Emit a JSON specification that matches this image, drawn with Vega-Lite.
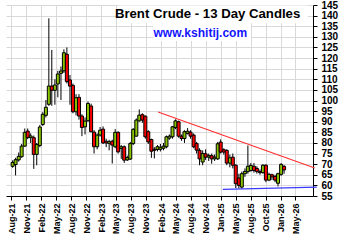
{
  "$schema": "https://vega.github.io/schema/vega-lite/v6.json",
  "width": 307,
  "height": 191,
  "autosize": "none",
  "padding": {"left": 6, "top": 5, "right": 33, "bottom": 48},
  "background": "white",
  "config": {
    "view": {"stroke": null},
    "axis": {
      "gridColor": "#d9d9d9", "gridWidth": 1, "domainColor": "#000", "domainWidth": 1,
      "tickColor": "#000", "labelColor": "#000", "labelFont": "Liberation Sans",
      "labelFontWeight": "bold"
    }
  },
  "data": {"values": [
    {"d":"2021-08-09","o":69.0,"h":71.8,"l":68.3,"c":70.8},
    {"d":"2021-08-27","o":69.8,"h":73.0,"l":64.7,"c":72.1},
    {"d":"2021-09-15","o":72.0,"h":75.5,"l":71.2,"c":73.7},
    {"d":"2021-10-03","o":73.5,"h":79.5,"l":73.0,"c":78.5},
    {"d":"2021-10-22","o":78.5,"h":86.8,"l":78.2,"c":85.0},
    {"d":"2021-11-09","o":85.6,"h":86.8,"l":81.8,"c":82.5},
    {"d":"2021-11-27","o":82.5,"h":84.5,"l":80.0,"c":83.3},
    {"d":"2021-12-16","o":82.5,"h":83.5,"l":67.8,"c":74.6},
    {"d":"2022-01-03","o":74.6,"h":80.0,"l":69.5,"c":79.3},
    {"d":"2022-01-22","o":78.8,"h":88.5,"l":78.0,"c":87.5},
    {"d":"2022-02-09","o":88.7,"h":94.5,"l":88.0,"c":93.5},
    {"d":"2022-02-28","o":93.0,"h":100.2,"l":92.0,"c":96.8},
    {"d":"2022-03-18","o":98.2,"h":138.7,"l":97.5,"c":106.8},
    {"d":"2022-04-05","o":106.8,"h":123.8,"l":97.5,"c":104.8},
    {"d":"2022-04-24","o":104.8,"h":110.0,"l":98.0,"c":107.3},
    {"d":"2022-05-12","o":107.8,"h":114.0,"l":101.5,"c":112.5},
    {"d":"2022-05-31","o":112.8,"h":116.0,"l":100.2,"c":113.9},
    {"d":"2022-06-18","o":114.0,"h":124.1,"l":113.0,"c":122.5},
    {"d":"2022-07-06","o":121.8,"h":125.0,"l":108.0,"c":108.9},
    {"d":"2022-07-25","o":109.7,"h":112.0,"l":98.0,"c":106.8},
    {"d":"2022-08-12","o":107.1,"h":108.0,"l":94.0,"c":94.7},
    {"d":"2022-08-31","o":94.7,"h":103.0,"l":93.0,"c":101.3},
    {"d":"2022-09-18","o":101.5,"h":103.0,"l":91.0,"c":92.7},
    {"d":"2022-10-06","o":92.7,"h":93.5,"l":83.2,"c":87.3},
    {"d":"2022-10-25","o":87.6,"h":92.0,"l":84.0,"c":90.3},
    {"d":"2022-11-12","o":90.5,"h":99.5,"l":90.0,"c":98.6},
    {"d":"2022-12-01","o":97.4,"h":98.5,"l":85.0,"c":85.3},
    {"d":"2022-12-19","o":85.1,"h":86.0,"l":75.0,"c":78.2},
    {"d":"2023-01-07","o":78.2,"h":84.5,"l":77.0,"c":83.7},
    {"d":"2023-01-25","o":83.7,"h":87.5,"l":83.0,"c":86.0},
    {"d":"2023-02-12","o":86.5,"h":87.8,"l":79.5,"c":80.0},
    {"d":"2023-03-03","o":80.8,"h":82.0,"l":78.0,"c":80.0},
    {"d":"2023-03-21","o":79.8,"h":81.5,"l":76.5,"c":80.6},
    {"d":"2023-04-09","o":80.8,"h":81.5,"l":70.3,"c":79.0},
    {"d":"2023-04-27","o":78.2,"h":86.5,"l":77.5,"c":85.0},
    {"d":"2023-05-15","o":85.0,"h":85.5,"l":75.0,"c":75.8},
    {"d":"2023-06-03","o":77.4,"h":79.0,"l":72.5,"c":78.2},
    {"d":"2023-06-21","o":78.2,"h":78.8,"l":70.6,"c":71.9},
    {"d":"2023-07-10","o":72.0,"h":74.0,"l":71.5,"c":73.1},
    {"d":"2023-07-28","o":72.4,"h":80.5,"l":72.0,"c":79.7},
    {"d":"2023-08-15","o":79.7,"h":87.0,"l":79.0,"c":86.4},
    {"d":"2023-09-03","o":83.2,"h":91.5,"l":83.0,"c":90.8},
    {"d":"2023-09-21","o":90.4,"h":95.8,"l":90.0,"c":93.1},
    {"d":"2023-10-10","o":93.3,"h":94.0,"l":89.5,"c":90.8},
    {"d":"2023-10-28","o":92.6,"h":93.0,"l":82.0,"c":82.9},
    {"d":"2023-11-15","o":85.3,"h":86.0,"l":79.5,"c":80.5},
    {"d":"2023-12-04","o":81.6,"h":82.0,"l":73.0,"c":76.1},
    {"d":"2023-12-22","o":77.0,"h":78.0,"l":72.7,"c":76.5},
    {"d":"2024-01-10","o":76.9,"h":79.0,"l":76.0,"c":78.2},
    {"d":"2024-01-28","o":77.0,"h":79.5,"l":76.0,"c":78.0},
    {"d":"2024-02-16","o":77.5,"h":80.0,"l":76.5,"c":78.5},
    {"d":"2024-03-05","o":78.2,"h":83.5,"l":77.5,"c":82.9},
    {"d":"2024-03-23","o":82.3,"h":84.0,"l":81.5,"c":83.2},
    {"d":"2024-04-11","o":82.9,"h":88.0,"l":82.0,"c":87.6},
    {"d":"2024-04-29","o":87.3,"h":91.1,"l":86.5,"c":90.4},
    {"d":"2024-05-18","o":90.0,"h":90.5,"l":82.5,"c":83.2},
    {"d":"2024-06-05","o":83.2,"h":84.0,"l":81.0,"c":82.1},
    {"d":"2024-06-23","o":82.1,"h":86.0,"l":80.0,"c":85.3},
    {"d":"2024-07-12","o":84.5,"h":87.0,"l":84.0,"c":85.5},
    {"d":"2024-07-30","o":85.1,"h":86.0,"l":82.0,"c":83.2},
    {"d":"2024-08-18","o":83.7,"h":84.5,"l":77.5,"c":78.2},
    {"d":"2024-09-05","o":79.7,"h":80.5,"l":75.0,"c":76.6},
    {"d":"2024-09-23","o":76.5,"h":77.5,"l":69.5,"c":72.5},
    {"d":"2024-10-12","o":71.0,"h":76.5,"l":69.5,"c":75.0},
    {"d":"2024-10-30","o":74.9,"h":77.0,"l":72.0,"c":73.3},
    {"d":"2024-11-18","o":73.3,"h":75.0,"l":71.5,"c":74.0},
    {"d":"2024-12-06","o":74.0,"h":75.0,"l":70.2,"c":72.5},
    {"d":"2024-12-24","o":72.5,"h":74.5,"l":71.5,"c":73.3},
    {"d":"2025-01-12","o":72.5,"h":80.5,"l":72.0,"c":79.6},
    {"d":"2025-01-30","o":80.4,"h":81.7,"l":75.0,"c":75.7},
    {"d":"2025-02-18","o":76.8,"h":77.5,"l":74.5,"c":75.7},
    {"d":"2025-03-08","o":76.5,"h":77.0,"l":69.5,"c":70.5},
    {"d":"2025-03-27","o":70.5,"h":74.5,"l":68.5,"c":73.0},
    {"d":"2025-04-14","o":73.3,"h":75.0,"l":68.0,"c":69.5},
    {"d":"2025-05-02","o":69.5,"h":70.0,"l":58.7,"c":60.8},
    {"d":"2025-05-21","o":63.5,"h":65.5,"l":58.6,"c":60.0},
    {"d":"2025-06-08","o":59.2,"h":66.5,"l":58.4,"c":65.5},
    {"d":"2025-06-27","o":65.5,"h":68.0,"l":64.0,"c":66.6},
    {"d":"2025-07-15","o":66.5,"h":78.8,"l":65.5,"c":69.0},
    {"d":"2025-08-02","o":67.0,"h":70.5,"l":66.5,"c":69.4},
    {"d":"2025-08-21","o":69.0,"h":70.5,"l":66.0,"c":67.0},
    {"d":"2025-09-08","o":68.0,"h":69.0,"l":65.5,"c":66.5},
    {"d":"2025-09-27","o":66.5,"h":67.5,"l":65.0,"c":66.0},
    {"d":"2025-10-15","o":66.0,"h":70.0,"l":65.5,"c":69.5},
    {"d":"2025-11-02","o":69.5,"h":70.0,"l":61.5,"c":62.5},
    {"d":"2025-11-21","o":62.5,"h":66.0,"l":62.0,"c":65.2},
    {"d":"2025-12-09","o":65.0,"h":65.5,"l":62.5,"c":64.0},
    {"d":"2025-12-28","o":64.2,"h":65.0,"l":61.5,"c":62.5},
    {"d":"2026-01-15","o":61.0,"h":66.0,"l":59.5,"c":65.5},
    {"d":"2026-02-03","o":65.2,"h":70.5,"l":64.5,"c":69.9},
    {"d":"2026-02-21","o":69.0,"h":69.5,"l":65.5,"c":67.3}
  ]},
  "layer": [
    {
      "mark": {"type": "rule", "color": "#000", "strokeWidth": 1},
      "encoding": {
        "x": {"field": "d", "type": "temporal", "title": null,
          "scale": {"domain": [{"year": 2021, "month": 7, "date": 30}, {"year": 2026, "month": 7, "date": 17}]},
          "axis": {
            "orient": "bottom",
            "values": [
              {"year": 2021, "month": 8, "date": 1}, {"year": 2021, "month": 11, "date": 1},
              {"year": 2022, "month": 2, "date": 1}, {"year": 2022, "month": 5, "date": 1},
              {"year": 2022, "month": 8, "date": 1}, {"year": 2022, "month": 11, "date": 1},
              {"year": 2023, "month": 2, "date": 1}, {"year": 2023, "month": 5, "date": 1},
              {"year": 2023, "month": 8, "date": 1}, {"year": 2023, "month": 11, "date": 1},
              {"year": 2024, "month": 2, "date": 1}, {"year": 2024, "month": 5, "date": 1},
              {"year": 2024, "month": 8, "date": 1}, {"year": 2024, "month": 11, "date": 1},
              {"year": 2025, "month": 1, "date": 31}, {"year": 2025, "month": 5, "date": 1},
              {"year": 2025, "month": 8, "date": 1}, {"year": 2025, "month": 10, "date": 31},
              {"year": 2026, "month": 1, "date": 31}, {"year": 2026, "month": 5, "date": 1}
            ],
            "tickCount": 60,
            "format": "%b-%y", "labelAngle": -90, "labelFontSize": 9, "labelOverlap": false,
            "labelBound": false, "labelFlush": false,
            "tickSize": 4, "labelPadding": 3, "grid": true, "title": null
          }
        },
        "y": {"field": "l", "type": "quantitative", "title": null,
          "scale": {"domain": [55, 145], "nice": false, "zero": false},
          "axis": {
            "orient": "right",
            "values": [55,60,65,70,75,80,85,90,95,100,105,110,115,120,125,130,135,140,145],
            "tickCount": 60,
            "labelFontSize": 10, "tickSize": 4, "labelPadding": 4, "grid": true, "title": null,
            "labelOverlap": false, "labelBound": false, "labelFlush": false
          }
        },
        "y2": {"field": "h"}
      }
    },
    {
      "mark": {"type": "bar", "size": 3, "stroke": "#000", "strokeWidth": 1},
      "encoding": {
        "x": {"field": "d", "type": "temporal", "title": null},
        "y": {"field": "o", "type": "quantitative", "title": null},
        "y2": {"field": "c"},
        "color": {"condition": {"test": "datum.c >= datum.o", "value": "#88c400"}, "value": "#ff0000"}
      }
    },
    {
      "data": {"values": [{}]},
      "mark": {"type": "rule", "color": "#ff3030", "strokeWidth": 1.2},
      "encoding": {
        "x": {"datum": {"year": 2024, "month": 1, "date": 14}, "title": null},
        "x2": {"datum": {"year": 2026, "month": 8, "date": 27}},
        "y": {"datum": 94.6, "title": null},
        "y2": {"datum": 68.2}
      }
    },
    {
      "data": {"values": [{}]},
      "mark": {"type": "rule", "color": "#3a3aff", "strokeWidth": 1.3},
      "encoding": {
        "x": {"datum": {"year": 2025, "month": 2, "date": 12}, "title": null},
        "x2": {"datum": {"year": 2026, "month": 9, "date": 8}},
        "y": {"datum": 58.1, "title": null},
        "y2": {"datum": 59.2}
      }
    },
    {
      "data": {"values": [{}]},
      "mark": {"type": "rect", "color": "white"},
      "encoding": {
        "x": {"datum": {"year": 2023, "month": 5, "date": 16}, "title": null},
        "x2": {"datum": {"year": 2026, "month": 7, "date": 15}},
        "y": {"datum": 144.8, "title": null},
        "y2": {"datum": 136.4}
      }
    },
    {
      "data": {"values": [{}]},
      "mark": {"type": "rect", "color": "white"},
      "encoding": {
        "x": {"datum": {"year": 2023, "month": 12, "date": 15}, "title": null},
        "x2": {"datum": {"year": 2025, "month": 8, "date": 2}},
        "y": {"datum": 136.4, "title": null},
        "y2": {"datum": 128.0}
      }
    },
    {
      "data": {"values": [{}]},
      "mark": {"type": "text", "text": "Brent Crude - 13 Day Candles", "align": "right", "baseline": "alphabetic",
        "font": "Liberation Sans", "fontWeight": "bold", "fontSize": 13.2, "color": "#000"},
      "encoding": {
        "x": {"datum": {"year": 2026, "month": 5, "date": 31}, "title": null},
        "y": {"datum": 138.7, "title": null}
      }
    },
    {
      "data": {"values": [{}]},
      "mark": {"type": "text", "text": "www.kshitij.com", "align": "right", "baseline": "alphabetic",
        "font": "Liberation Sans", "fontWeight": "bold", "fontSize": 12, "color": "#1414ff"},
      "encoding": {
        "x": {"datum": {"year": 2025, "month": 7, "date": 10}, "title": null},
        "y": {"datum": 130.0, "title": null}
      }
    }
  ]
}
